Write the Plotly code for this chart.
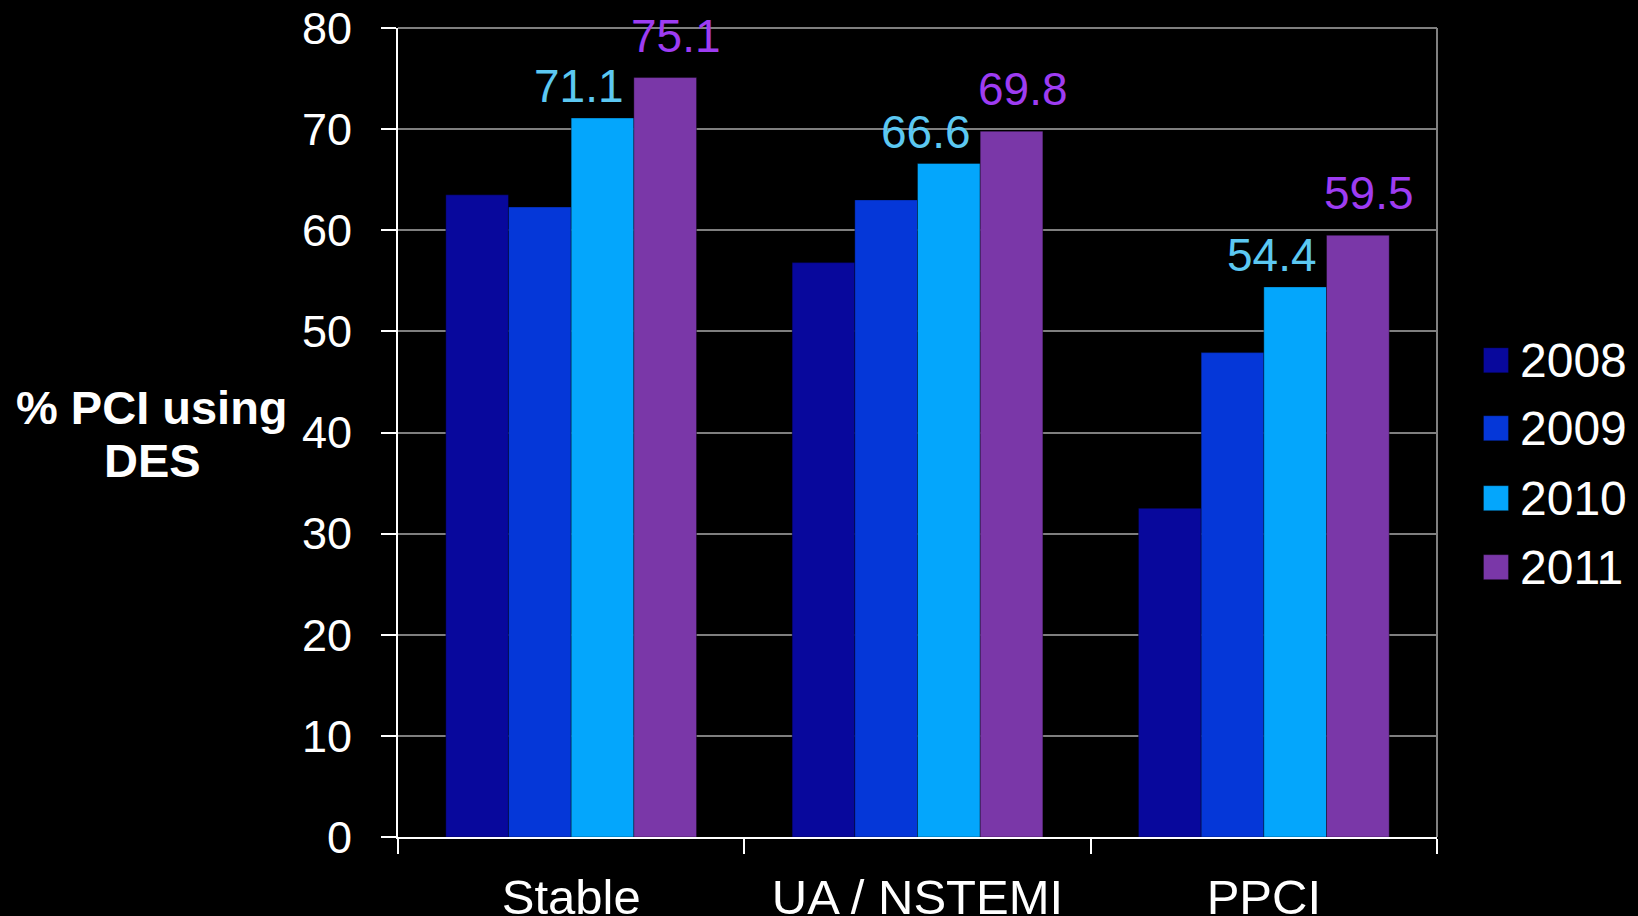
import plotly.graph_objects as go

categories = ["Stable", "UA / NSTEMI", "PPCI"]
series_names = ["2008", "2009", "2010", "2011"]
v2008 = [63.5, 56.8, 32.5]
v2009 = [62.3, 63.0, 47.9]
v2010 = [71.1, 66.6, 54.4]
v2011 = [75.1, 69.8, 59.5]
y_ticks = [0, 10, 20, 30, 40, 50, 60, 70, 80]
y_title_lines = ["% PCI using", "DES"]

series_values = [v2008, v2009, v2010, v2011]
bar_colors = ["#08089C", "#0537D8", "#04A6FC", "#7A37A8"]
label_colors = {"2010": "#5CC8F2", "2011": "#9E3CF2"}
label_xshift = {"2010": 8, "2011": 105}
label_yshift = {"2010": 4, "2011": 14}

FONT = "Liberation Sans, Arial, sans-serif"
W, H = 1638, 916
L, R, T, B = 398, 1437.5, 27.5, 837
pw, ph = R - L, B - T

def px_x(px):
    return (px - L) / pw

def px_y(py):
    return (B - py) / ph

fig = go.Figure()
for name, vals, col in zip(series_names, series_values, bar_colors):
    fig.add_trace(go.Bar(
        x=categories, y=vals, name=name, showlegend=False,
        marker=dict(color=col, line=dict(color="rgba(0,0,0,0.35)", width=1)),
    ))

annotations = []
for name, vals in zip(series_names, series_values):
    if name in label_colors:
        for c, v in zip(categories, vals):
            annotations.append(dict(
                x=c, y=v, xref="x", yref="y", text=f"{v:.1f}", showarrow=False,
                xanchor="center", yanchor="bottom",
                xshift=label_xshift[name], yshift=label_yshift[name],
                font=dict(family=FONT, size=46, color=label_colors[name]),
            ))

# y-axis title (horizontal, two lines)
for line, cy in zip(y_title_lines, [407, 460]):
    annotations.append(dict(
        x=px_x(152), y=px_y(cy), xref="paper", yref="paper", text=f"<b>{line}</b>",
        showarrow=False, xanchor="center", yanchor="middle",
        font=dict(family=FONT, size=47, color="white"),
    ))

# manual legend
shapes = []
legend_y = [360, 428, 498, 567]
for name, col, ly in zip(series_names, bar_colors, legend_y):
    shapes.append(dict(type="rect", xref="paper", yref="paper",
                       x0=px_x(1484), x1=px_x(1509), y0=px_y(ly + 12.5), y1=px_y(ly - 12.5),
                       fillcolor=col, line=dict(color="rgba(0,0,0,0.3)", width=1)))
    annotations.append(dict(
        x=px_x(1519), y=px_y(ly), xref="paper", yref="paper", text=name,
        showarrow=False, xanchor="left", yanchor="middle",
        font=dict(family=FONT, size=48, color="white"),
    ))

# right border line and top gridline
shapes.append(dict(type="line", xref="paper", yref="paper", x0=1, x1=1, y0=0, y1=1,
                   line=dict(color="#808080", width=2)))
shapes.append(dict(type="line", xref="paper", yref="paper", x0=0, x1=1, y0=1, y1=1,
                   line=dict(color="#7F7F7F", width=2), layer="below"))

fig.update_layout(
    template="none",
    width=W, height=H,
    margin=dict(l=L, r=W - R, t=T, b=H - B, pad=0),
    paper_bgcolor="black", plot_bgcolor="black",
    barmode="group", bargap=0.276, bargroupgap=0,
    font=dict(family=FONT, color="white"),
    annotations=annotations, shapes=shapes,
    xaxis=dict(
        type="category", tickson="boundaries", ticks="outside", ticklen=15,
        tickwidth=2, tickcolor="white", showline=True, linecolor="white", linewidth=2,
        showgrid=False, zeroline=False, automargin=False,
        tickfont=dict(family=FONT, size=49, color="white"),
        ticklabelstandoff=16,
    ),
    yaxis=dict(
        range=[0, 80], tickvals=y_ticks, ticks="outside", ticklen=15, tickwidth=2,
        tickcolor="white", showline=True, linecolor="white", linewidth=2,
        showgrid=True, gridcolor="#7F7F7F", gridwidth=2, zeroline=False, automargin=False,
        tickfont=dict(family=FONT, size=45, color="white"), ticklabelstandoff=20,
    ),
)

fig.write_html(
    "out.html",
    config={"displayModeBar": False},
    post_script="document.body.style.margin='0';document.body.style.overflow='hidden';",
)
